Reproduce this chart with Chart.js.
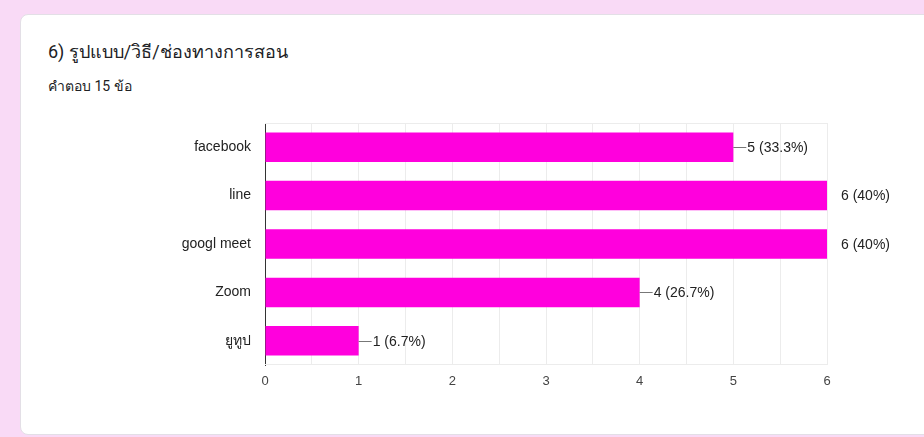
<!DOCTYPE html>
<html>
<head>
<meta charset="utf-8">
<script src="https://cdn.jsdelivr.net/npm/chart.js@4"></script>
<style>
  html,body{margin:0;padding:0;width:924px;height:437px;overflow:hidden;background:#f9daf6;font-family:"Liberation Sans",Arial,"Noto Sans",sans-serif;}
  #card{position:absolute;left:20px;top:14px;width:920px;height:421px;background:#fff;border:1px solid #e3dfe6;border-radius:8px;box-sizing:border-box;}
  #title{position:absolute;left:48px;top:37px;font-size:18px;color:#202124;font-family:Roboto,"Noto Sans","Liberation Sans",sans-serif;}
  #sub{position:absolute;left:48px;top:75px;font-size:14px;color:#202124;font-family:Roboto,"Noto Sans","Liberation Sans",sans-serif;}
  #wrap{position:absolute;left:0;top:0;width:924px;height:437px;}
</style>
</head>
<body>
<div id="card"></div>
<div id="title">6) รูปแบบ/วิธี/ช่องทางการสอน</div>
<div id="sub">คำตอบ 15 ข้อ</div>
<div id="wrap"><canvas id="c" width="924" height="437"></canvas></div>
<script>
const categories = ["facebook", "line", "googl meet", "Zoom", "ยูทูป"];
const counts = [5, 6, 6, 4, 1];
const totalResponses = 15;
const xTickValues = [0, 1, 2, 3, 4, 5, 6];

const framePlugin = {
  id: 'frame',
  beforeDatasetsDraw(chart) {
    const { ctx, chartArea: a } = chart;
    ctx.save();
    ctx.strokeStyle = '#ececec';
    ctx.lineWidth = 1;
    ctx.beginPath();
    ctx.moveTo(a.left, Math.round(a.top) + 0.5);
    ctx.lineTo(a.right, Math.round(a.top) + 0.5);
    ctx.moveTo(a.left, Math.round(a.bottom) - 0.5);
    ctx.lineTo(a.right, Math.round(a.bottom) - 0.5);
    ctx.stroke();
    ctx.restore();
  }
};

const labelPlugin = {
  id: 'barLabels',
  afterDatasetsDraw(chart) {
    const ctx = chart.ctx;
    const meta = chart.getDatasetMeta(0);
    const max = Math.max(...counts);
    ctx.save();
    ctx.font = '14px "Liberation Sans", Arial, sans-serif';
    ctx.fillStyle = '#222';
    ctx.textBaseline = 'middle';
    ctx.textAlign = 'left';
    meta.data.forEach((bar, i) => {
      const v = counts[i];
      const pct = Math.round(v / totalResponses * 1000) / 10;
      const txt = v + ' (' + pct + '%)';
      if (v < max) {
        ctx.strokeStyle = '#777';
        ctx.lineWidth = 1;
        ctx.beginPath();
        ctx.moveTo(bar.x, Math.round(bar.y) + 0.5);
        ctx.lineTo(bar.x + 13, Math.round(bar.y) + 0.5);
        ctx.stroke();
      }
      ctx.fillText(txt, bar.x + 14, bar.y + 1);
    });
    ctx.restore();
  }
};

new Chart(document.getElementById('c'), {
  type: 'bar',
  data: {
    labels: categories,
    datasets: [{
      data: counts,
      backgroundColor: '#ff00dd',
      borderWidth: 0,
      barPercentage: 0.61,
      categoryPercentage: 1.0
    }]
  },
  options: {
    indexAxis: 'y',
    responsive: false,
    animation: false,
    layout: { padding: { top: 123, right: 97, left: 0, bottom: 0 } },
    plugins: { legend: { display: false }, tooltip: { enabled: false } },
    scales: {
      x: {
        min: 0, max: 6,
        afterBuildTicks(scale) {
          const t = [];
          for (let i = 0; i <= 12; i++) t.push({ value: i * 0.5 });
          scale.ticks = t;
        },
        afterFit(scale) { scale.height = 72; },
        grid: { color: '#ececec', drawTicks: false },
        border: { display: false },
        ticks: {
          padding: 9,
          color: '#444',
          font: { size: 13, family: '"Liberation Sans", Arial, sans-serif' },
          autoSkip: false,
          maxRotation: 0,
          callback(v) { return xTickValues.includes(v) ? String(v) : ''; }
        }
      },
      y: {
        afterFit(scale) { scale.width = 265; },
        grid: { display: false, drawTicks: false },
        border: { display: true, color: '#333', width: 1 },
        ticks: {
          padding: 14,
          color: '#222',
          font: { size: 14, family: '"Liberation Sans", Arial, sans-serif' }
        }
      }
    }
  },
  plugins: [framePlugin, labelPlugin]
});
</script>
</body>
</html>
